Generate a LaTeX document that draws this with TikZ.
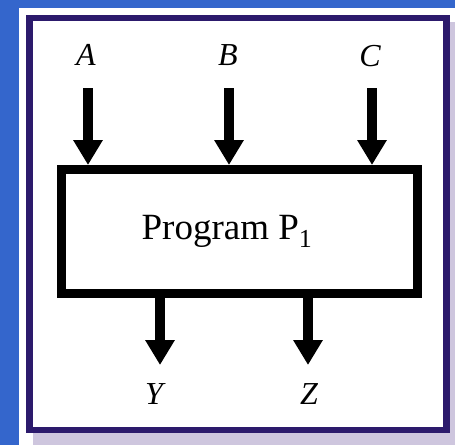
\documentclass[tikz,border=0pt]{standalone}
\usepackage{fontspec}
\setmainfont{Liberation Serif}
\usetikzlibrary{arrows.meta}
\definecolor{bgblue}{RGB}{52,102,204}
\definecolor{frameind}{RGB}{44,26,108}
\definecolor{shadowlav}{RGB}{206,198,222}
\tikzset{
  iolabel/.style={font=\fontsize{32}{36}\selectfont\itshape, inner sep=0pt},
  bigarrow/.style={line width=10pt, -{Triangle[width=28pt,length=25pt]}},
  progbox/.style={draw=black, line width=9pt, minimum width=356pt, minimum height=124pt, inner sep=0pt, outer sep=4.5pt}
}
\begin{document}
\begin{tikzpicture}[x=1pt,y=-1pt]
\useasboundingbox (0,0) rectangle (455,445);
% background and panel
\fill[bgblue] (0,0) rectangle (455,445);
\fill[white] (19,8) rectangle (455,445);
\fill[shadowlav] (33,433) rectangle (455,445);
\fill[shadowlav] (450,22) rectangle (455,445);
\draw[frameind, line width=6.5pt] (29.5,18) rectangle (446.5,430);
% program box
\node[progbox] (box) at (239.5,231.5) {};
\node[font=\fontsize{37}{40}\selectfont, inner sep=0pt] (prog) at (227,231.5) {Program P\textsubscript{1}};
% input labels
\node[iolabel] (A) at (86,55) {A};
\node[iolabel] (B) at (228,55) {B};
\node[iolabel] (C) at (370,56) {C};
\coordinate (a0) at (88,88);
\coordinate (b0) at (229,88);
\coordinate (c0) at (372,88);
\draw[bigarrow] (a0) -- (a0 |- box.north);
\draw[bigarrow] (b0) -- (b0 |- box.north);
\draw[bigarrow] (c0) -- (c0 |- box.north);
% output labels
\node[iolabel] (Y) at (154,394) {Y};
\node[iolabel] (Z) at (309,394) {Z};
\coordinate (y1) at (160,365);
\coordinate (z1) at (308,365);
\draw[bigarrow] (box.south -| y1) -- (y1);
\draw[bigarrow] (box.south -| z1) -- (z1);
\end{tikzpicture}
\end{document}
